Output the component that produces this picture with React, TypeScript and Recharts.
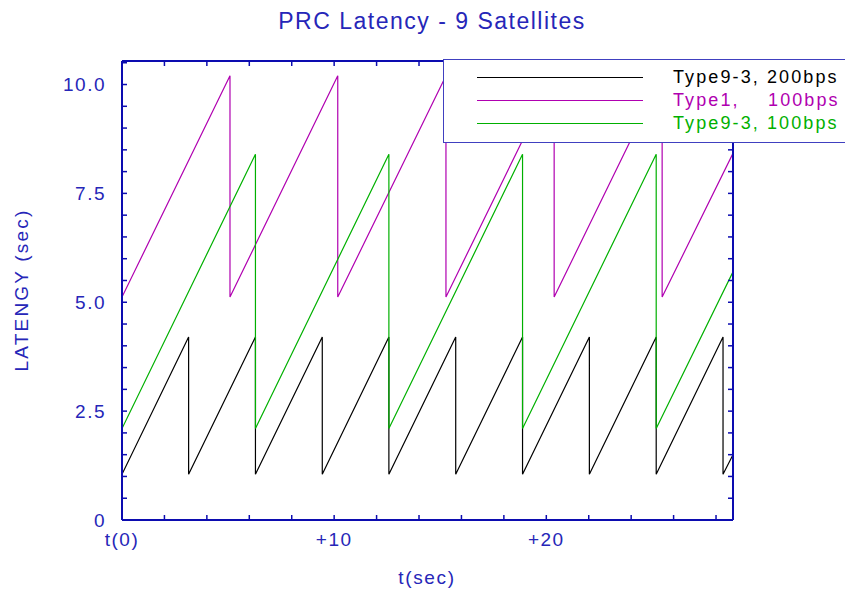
import React from "react";
import { LineChart, Line, XAxis, YAxis, Legend } from "recharts";

const BLUE = "#2626b8";
const FRAME = "#0c0cb0";
const FONT = '"Liberation Sans", Arial, Helvetica, sans-serif';

// corners of each saw tooth: time (sec) and latency (sec)
const t200 = [0, 3.14, 3.14, 6.29, 6.29, 9.44, 9.44, 12.58, 12.58, 15.73, 15.73, 18.88, 18.88, 22.03, 22.03, 25.18, 25.18, 28.33, 28.33, 28.8];
const lat200 = [1.05, 4.2, 1.05, 4.2, 1.05, 4.2, 1.05, 4.2, 1.05, 4.2, 1.05, 4.2, 1.05, 4.2, 1.05, 4.2, 1.05, 4.2, 1.05, 1.5];

const tType1 = [0, 5.09, 5.09, 10.17, 10.17, 15.27, 15.27, 20.37, 20.37, 25.46, 25.46, 28.8];
const latType1 = [5.12, 10.2, 5.12, 10.2, 5.12, 10.2, 5.12, 10.2, 5.12, 10.2, 5.12, 8.42];

const t100 = [0, 6.29, 6.29, 12.58, 12.58, 18.88, 18.88, 25.18, 25.18, 28.8];
const lat100 = [2.1, 8.4, 2.1, 8.4, 2.1, 8.4, 2.1, 8.4, 2.1, 5.7];

const seriesNames = ["Type9-3, 200bps", "Type1,    100bps", "Type9-3, 100bps"];
const seriesColors = ["#000000", "#b000b0", "#00b000"];

const xTicks = [0, 2, 4, 6, 8, 10, 12, 14, 16, 18, 20, 22, 24, 26, 28];
const xLabelValues = [0, 10, 20];
const xLabelTexts = ["t(0)", "+10", "+20"];

const yTicks = [0, 0.5, 1, 1.5, 2, 2.5, 3, 3.5, 4, 4.5, 5, 5.5, 6, 6.5, 7, 7.5, 8, 8.5, 9, 9.5, 10, 10.5];
const yLabelValues = [0, 2.5, 5, 7.5, 10];
const yLabelTexts = ["0", "2.5", "5.0", "7.5", "10.0"];

const toRows = (ts: number[], vs: number[]) => ts.map((t, i) => ({ t, v: vs[i] }));

const textStyle = { fontFamily: FONT, fontSize: 19, letterSpacing: 1.5, fill: BLUE };

function LeftTick(props: any) {
  const { x, y, payload } = props;
  const idx = yLabelValues.indexOf(payload.value);
  return (
    <g>
      <line x1={x} x2={x + 5} y1={y} y2={y} stroke={FRAME} strokeWidth={1.5} />
      {idx >= 0 && (
        <text x={x - 16} y={y} textAnchor="end" dominantBaseline="central" style={textStyle}>
          {yLabelTexts[idx]}
        </text>
      )}
    </g>
  );
}

function RightTick(props: any) {
  const { x, y } = props;
  return <line x1={x} x2={x - 5} y1={y} y2={y} stroke={FRAME} strokeWidth={1.5} />;
}

function BottomTick(props: any) {
  const { x, y, payload } = props;
  const idx = xLabelValues.indexOf(payload.value);
  return (
    <g>
      <line x1={x} x2={x} y1={y} y2={y - 5} stroke={FRAME} strokeWidth={1.5} />
      {idx >= 0 && (
        <text x={x} y={y + 26} textAnchor="middle" style={textStyle}>
          {xLabelTexts[idx]}
        </text>
      )}
    </g>
  );
}

function TopTick(props: any) {
  const { x, y } = props;
  return <line x1={x} x2={x} y1={y} y2={y + 5} stroke={FRAME} strokeWidth={1.5} />;
}

function LegendBox(props: any) {
  const entries = [...(props.payload || [])].sort(
    (a: any, b: any) => seriesNames.indexOf(a.value) - seriesNames.indexOf(b.value)
  );
  return (
    <div
      style={{
        width: 404,
        height: 84,
        background: "#fff",
        border: "1.5px solid #4040c0",
        boxSizing: "border-box",
        position: "relative",
      }}
    >
      {entries.map((entry: any, i: number) => (
        <div key={i} style={{ position: "absolute", left: 0, top: 6 + i * 23, height: 23, width: 400 }}>
          <div
            style={{
              position: "absolute",
              left: 33,
              top: 11,
              width: 166,
              borderTop: `1.3px solid ${entry.color}`,
            }}
          />
          <span
            style={{
              position: "absolute",
              left: 229,
              top: 0,
              fontFamily: FONT,
              fontSize: 18,
              letterSpacing: 2.1,
              color: entry.color,
              whiteSpace: "pre",
              lineHeight: "23px",
            }}
          >
            {entry.value}
          </span>
        </div>
      ))}
    </div>
  );
}

export default function App() {
  return (
    <div style={{ position: "absolute", left: 0, top: 0, width: 845, height: 593, background: "#fff", overflow: "hidden" }}>
      <LineChart width={845} height={593} margin={{ top: 60, right: 111, bottom: 33, left: 62 }}>
        <XAxis
          xAxisId="bottom"
          dataKey="t"
          type="number"
          domain={[0, 28.8]}
          allowDataOverflow
          ticks={xTicks}
          interval={0}
          height={40}
          tickSize={0}
          tickMargin={0}
          axisLine={{ stroke: FRAME, strokeWidth: 2 }}
          tickLine={false}
          tick={<BottomTick />}
        />
        <XAxis
          xAxisId="top"
          orientation="top"
          dataKey="t"
          type="number"
          domain={[0, 28.8]}
          allowDataOverflow
          ticks={xTicks}
          interval={0}
          height={1}
          tickSize={0}
          tickMargin={0}
          axisLine={{ stroke: FRAME, strokeWidth: 2 }}
          tickLine={false}
          tick={<TopTick />}
        />
        <YAxis
          yAxisId="left"
          type="number"
          domain={[0, 10.54]}
          allowDataOverflow
          ticks={yTicks}
          interval={0}
          width={60}
          tickSize={0}
          tickMargin={0}
          axisLine={{ stroke: FRAME, strokeWidth: 2 }}
          tickLine={false}
          tick={<LeftTick />}
        />
        <YAxis
          yAxisId="right"
          orientation="right"
          type="number"
          domain={[0, 10.54]}
          allowDataOverflow
          ticks={yTicks}
          interval={0}
          width={1}
          tickSize={0}
          tickMargin={0}
          axisLine={{ stroke: FRAME, strokeWidth: 2 }}
          tickLine={false}
          tick={<RightTick />}
        />
        <Line
          xAxisId="bottom"
          yAxisId="left"
          data={toRows(t200, lat200)}
          dataKey="v"
          name={seriesNames[0]}
          stroke={seriesColors[0]}
          strokeWidth={1.2}
          dot={false}
          type="linear"
          isAnimationActive={false}
        />
        <Line
          xAxisId="bottom"
          yAxisId="left"
          data={toRows(tType1, latType1)}
          dataKey="v"
          name={seriesNames[1]}
          stroke={seriesColors[1]}
          strokeWidth={1.2}
          dot={false}
          type="linear"
          isAnimationActive={false}
        />
        <Line
          xAxisId="bottom"
          yAxisId="left"
          data={toRows(t100, lat100)}
          dataKey="v"
          name={seriesNames[2]}
          stroke={seriesColors[2]}
          strokeWidth={1.2}
          dot={false}
          type="linear"
          isAnimationActive={false}
        />
        <Legend
          layout="horizontal"
          verticalAlign="middle"
          align="center"
          content={<LegendBox />}
          wrapperStyle={{ left: 443, top: 59, width: 404, height: 84 }}
        />
      </LineChart>
      <div
        style={{
          position: "absolute",
          left: 432,
          top: 21,
          transform: "translate(-50%, -50%)",
          whiteSpace: "nowrap",
          fontFamily: FONT,
          fontSize: 23,
          letterSpacing: 1.5,
          color: BLUE,
        }}
      >
        PRC Latency - 9 Satellites
      </div>
      <div
        style={{
          position: "absolute",
          left: 22,
          top: 290,
          transform: "translate(-50%, -50%) rotate(-90deg)",
          whiteSpace: "nowrap",
          fontFamily: FONT,
          fontSize: 19,
          letterSpacing: 2.2,
          color: BLUE,
        }}
      >
        LATENGY (sec)
      </div>
      <div
        style={{
          position: "absolute",
          left: 427,
          top: 578,
          transform: "translate(-50%, -50%)",
          whiteSpace: "nowrap",
          fontFamily: FONT,
          fontSize: 19,
          letterSpacing: 1.7,
          color: BLUE,
        }}
      >
        t(sec)
      </div>
    </div>
  );
}
